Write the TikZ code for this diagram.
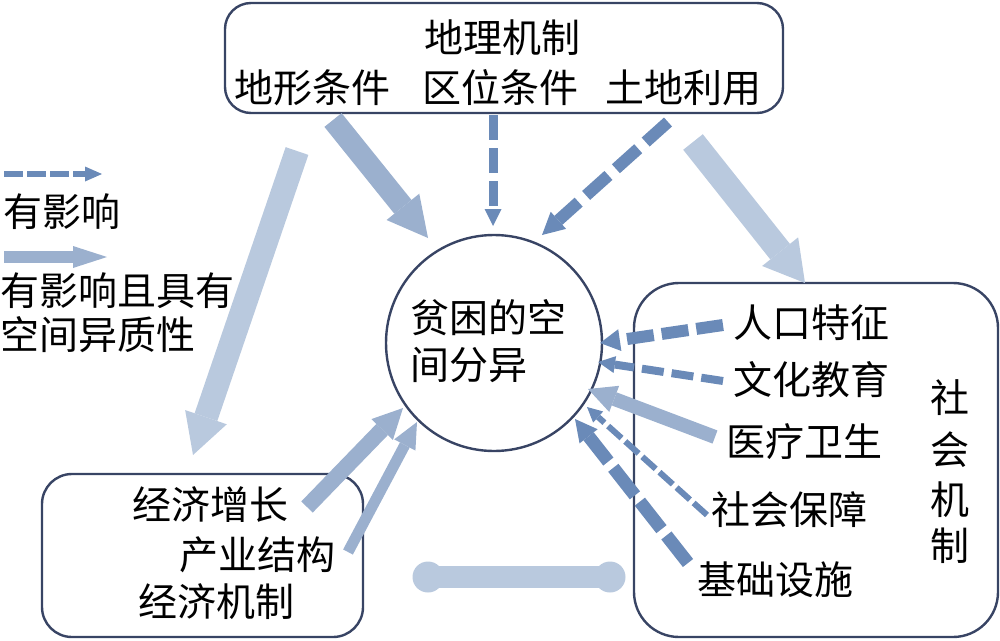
\documentclass[tikz,border=0pt]{standalone}
\usepackage{fontspec}
\setmainfont{Noto Sans CJK SC}
\usetikzlibrary{arrows.meta}
\definecolor{dk}{RGB}{106,138,184}
\definecolor{md}{RGB}{155,176,206}
\definecolor{lt}{RGB}{185,201,222}
\definecolor{bd}{RGB}{56,68,100}
\begin{document}
\begin{tikzpicture}[x=1pt,y=-1pt,
  txt/.style={font=\fontsize{39}{46}\selectfont, inner sep=0pt, anchor=center},
  frame/.style={draw=bd, line width=2.4pt},
  tip/.style 2 args={-{Triangle[width=#1pt,length=#2pt,line width=0pt]}}]
\useasboundingbox (0,0) rectangle (1000,640);
% frames
\node[frame, rounded corners=26pt, minimum width=558pt, minimum height=110pt] (geo) at (504,58) {};
\node[frame, circle, minimum size=216pt] (core) at (494,343) {};
\node[frame, rounded corners=30pt, minimum width=321pt, minimum height=163pt] (eco) at (202.5,555.5) {};
\node[frame, rounded corners=45pt, minimum width=364pt, minimum height=354pt] (soc) at (816,460) {};
% top texts
\node[txt] (g0) at (502,38) {地理机制};
\node[txt] (g1) at (312,88) {地形条件};
\node[txt] (g2) at (500,88) {区位条件};
\node[txt] (g3) at (683,88) {土地利用};
% core text
\node[txt, anchor=west] (c1) at (410,318) {贫困的空};
\node[txt, anchor=west] (c2) at (410,365) {间分异};
% economy
\node[txt] (e1) at (210,505) {经济增长};
\node[txt] (e2) at (257,555) {产业结构};
\node[txt] (e3) at (216,602) {经济机制};
% social
\node[txt] (s1) at (811,323) {人口特征};
\node[txt] (s2) at (811,380) {文化教育};
\node[txt] (s3) at (804,442) {医疗卫生};
\node[txt] (s4) at (789,510) {社会保障};
\node[txt] (s5) at (775,580) {基础设施};
\node[txt] (v1) at (950,398) {社};
\node[txt] (v2) at (950,450) {会};
\node[txt] (v3) at (950,500) {机};
\node[txt] (v4) at (950,546) {制};
% legend
\node[txt, anchor=west] (l1) at (3,212) {有影响};
\node[txt, anchor=west] (l2) at (0,291) {有影响且具有};
\node[txt, anchor=west] (l3) at (0,335) {空间异质性};
% coordinates
\coordinate (a1s) at (297,151); \coordinate (a1e) at (193,455);
\coordinate (a2s) at (693,142); \coordinate (a2e) at (805,283);
\coordinate (a3s) at (333,120); \coordinate (a3e) at (428,238);
\coordinate (a4s) at (493,115); \coordinate (a4e) at (493,226);
\coordinate (a5s) at (668,122); \coordinate (a5e) at (542,235);
\coordinate (a6s) at (723,325); \coordinate (a6e) at (600,343);
\coordinate (a7s) at (723,381); \coordinate (a7e) at (598,362);
\coordinate (a8s) at (715,437); \coordinate (a8e) at (588,389);
\coordinate (a9s) at (707,515); \coordinate (a9e) at (587,407);
\coordinate (a10s) at (688,563); \coordinate (a10e) at (575,419);
\coordinate (a11s) at (307,507); \coordinate (a11e) at (403,408);
\coordinate (a12s) at (348,552); \coordinate (a12e) at (417,422);
\coordinate (bl) at (428,577); \coordinate (br) at (610,577);
\coordinate (lg1s) at (4,174); \coordinate (lg1e) at (102,174);
\coordinate (lg2s) at (4,257); \coordinate (lg2e) at (107,257);
% arrows
\draw[lt, line width=24pt, tip={44}{40}] (a1s) -- (a1e);
\draw[lt, line width=25pt, tip={46}{40}] (a2s) -- (a2e);
\draw[md, line width=22pt, tip={42}{40}] (a3s) -- (a3e);
\draw[dk, line width=9pt, dash pattern=on 25pt off 8pt, tip={17}{17}] (a4s) -- (a4e);
\draw[dk, line width=12pt, dash pattern=on 30pt off 10pt, tip={23}{22}] (a5s) -- (a5e);
\draw[dk, line width=12pt, dash pattern=on 27pt off 8pt, tip={22}{20}] (a6s) -- (a6e);
\draw[dk, line width=8pt, dash pattern=on 22pt off 8pt, tip={17}{17}] (a7s) -- (a7e);
\draw[md, line width=14pt, tip={28}{28}] (a8s) -- (a8e);
\draw[dk, line width=6pt, dash pattern=on 18pt off 5pt, tip={15}{15}] (a9s) -- (a9e);
\draw[dk, line width=13pt, dash pattern=on 35pt off 8pt, tip={23}{22}] (a10s) -- (a10e);
\draw[md, line width=16pt, tip={30}{30}] (a11s) -- (a11e);
\draw[md, line width=11pt, tip={24}{26}] (a12s) -- (a12e);
% double link
\draw[lt, line width=22pt] (bl) -- (br);
\fill[lt] (bl) circle (15.5pt) (br) circle (15.5pt);
% legend arrows
\draw[dk, line width=6pt, dash pattern=on 19pt off 4pt, tip={15}{17}] (lg1s) -- (lg1e);
\draw[md, line width=12pt, tip={22}{34}] (lg2s) -- (lg2e);
\end{tikzpicture}
\end{document}
